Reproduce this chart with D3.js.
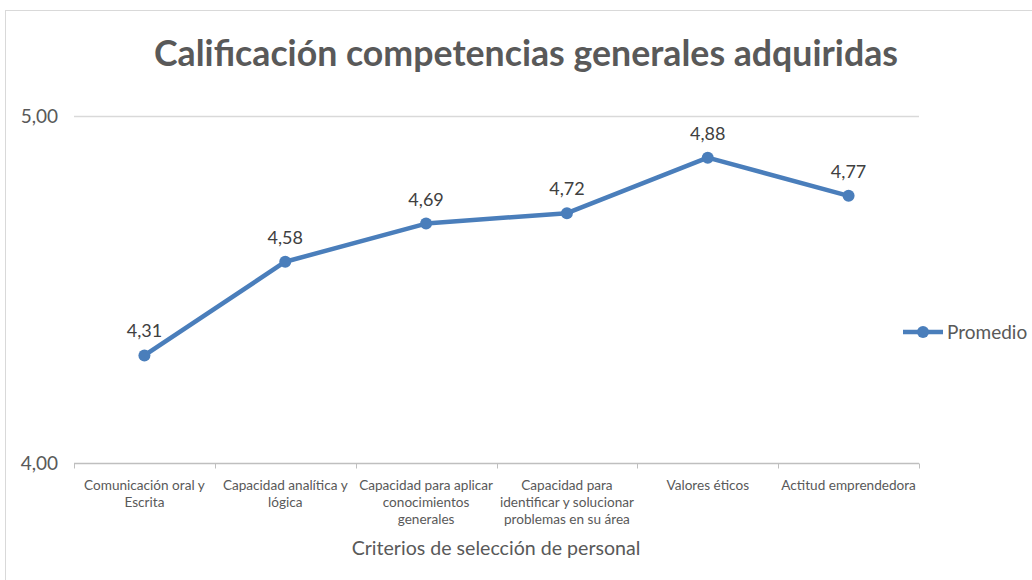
<!DOCTYPE html>
<html>
<head>
<meta charset="utf-8">
<script src="https://cdn.jsdelivr.net/npm/d3@7"></script>
<style>
  body { margin: 0; background: #fff; }
  svg { display: block; font-family: Lato, "Open Sans", "Noto Sans", sans-serif; }
</style>
</head>
<body>
<div id="chart"></div>
<script>
// chart data
var categories = [
    "Comunicación oral y|Escrita",
    "Capacidad analítica y|lógica",
    "Capacidad para aplicar|conocimientos|generales",
    "Capacidad para|identificar y solucionar|problemas en su área",
    "Valores éticos",
    "Actitud emprendedora"
];
var promedio = [4.31, 4.58, 4.69, 4.72, 4.88, 4.77];
var yTicks = [4, 5];
var seriesName = "Promedio";

var W = 1032, H = 580;
var margin = { top: 116, right: 113, bottom: 117, left: 74 };
var plotW = W - margin.left - margin.right,
    plotH = H - margin.top - margin.bottom;
var lineColor = "#4a7ebb";
var textColor = "#595959";

var svg = d3.select("#chart").append("svg")
    .attr("width", W)
    .attr("height", H);

// outer chart frame
svg.append("rect")
    .attr("x", 5.5).attr("y", 10.5)
    .attr("width", W).attr("height", H)
    .attr("fill", "none")
    .attr("stroke", "#d9d9d9")
    .attr("stroke-width", 1);

// title
svg.append("text")
    .attr("x", 526).attr("y", 66)
    .attr("text-anchor", "middle")
    .attr("font-size", 36)
    .attr("font-weight", "bold")
    .attr("fill", textColor)
    .attr("textLength", 744)
    .attr("lengthAdjust", "spacingAndGlyphs")
    .text("Calificación competencias generales adquiridas");

var g = svg.append("g")
    .attr("transform", "translate(" + margin.left + "," + margin.top + ")");

var x = d3.scaleBand().domain(d3.range(categories.length)).range([0, plotW]);
var y = d3.scaleLinear().domain([4, 5]).range([plotH, 0]);

// gridlines
g.selectAll(".grid")
    .data(yTicks.filter(function (d) { return d !== 4; }))
    .enter().append("line")
    .attr("x1", 0).attr("x2", plotW)
    .attr("y1", function (d) { return Math.round(y(d)) + 0.5; })
    .attr("y2", function (d) { return Math.round(y(d)) + 0.5; })
    .attr("stroke", "#d9d9d9")
    .attr("stroke-width", 1.5);

// y tick labels
g.selectAll(".ylab")
    .data(yTicks)
    .enter().append("text")
    .attr("x", -16)
    .attr("y", function (d) { return y(d); })
    .attr("dy", "0.35em")
    .attr("text-anchor", "end")
    .attr("font-size", 19)
    .attr("fill", textColor)
    .text(function (d) { return d3.format(".2f")(d).replace(".", ","); });

// x axis line with ticks between categories
var xAxis = g.append("g").attr("transform", "translate(0," + (Math.round(plotH) + 0.5) + ")");
xAxis.append("line")
    .attr("x1", 0).attr("x2", plotW)
    .attr("stroke", "#bfbfbf").attr("stroke-width", 1.5);
xAxis.selectAll(".tick")
    .data(d3.range(categories.length + 1))
    .enter().append("line")
    .attr("x1", function (i) { return Math.round(i * x.step()) + 0.5; })
    .attr("x2", function (i) { return Math.round(i * x.step()) + 0.5; })
    .attr("y1", 0).attr("y2", 5)
    .attr("stroke", "#bfbfbf");

// category labels
var catLabels = xAxis.selectAll(".xlab")
    .data(categories)
    .enter().append("text")
    .attr("text-anchor", "middle")
    .attr("font-size", 13.6)
    .attr("fill", textColor)
    .attr("transform", function (d, i) { return "translate(" + (x(i) + x.bandwidth() / 2) + ",26)"; });
catLabels.selectAll("tspan")
    .data(function (d) { return d.split("|"); })
    .enter().append("tspan")
    .attr("x", 0)
    .attr("dy", function (d, i) { return i === 0 ? 0 : 17; })
    .text(function (d) { return d; });

// axis title
svg.append("text")
    .attr("x", 496).attr("y", 555)
    .attr("text-anchor", "middle")
    .attr("font-size", 19.6)
    .attr("fill", textColor)
    .text("Criterios de selección de personal");

// line
var line = d3.line()
    .x(function (d, i) { return x(i) + x.bandwidth() / 2; })
    .y(function (d) { return y(d); });

g.append("path")
    .datum(promedio)
    .attr("fill", "none")
    .attr("stroke", lineColor)
    .attr("stroke-width", 4.5)
    .attr("stroke-linejoin", "round")
    .attr("d", line);

g.selectAll(".pt")
    .data(promedio)
    .enter().append("circle")
    .attr("cx", function (d, i) { return x(i) + x.bandwidth() / 2; })
    .attr("cy", function (d) { return y(d); })
    .attr("r", 6)
    .attr("fill", lineColor);

// data labels
g.selectAll(".dl")
    .data(promedio)
    .enter().append("text")
    .attr("x", function (d, i) { return x(i) + x.bandwidth() / 2; })
    .attr("y", function (d) { return y(d) - 18; })
    .attr("text-anchor", "middle")
    .attr("font-size", 18)
    .attr("fill", "#404040")
    .text(function (d) { return d3.format(".2f")(d).replace(".", ","); });

// legend
var leg = svg.append("g").attr("transform", "translate(903,332)");
leg.append("line")
    .attr("x1", 0).attr("x2", 40)
    .attr("stroke", lineColor).attr("stroke-width", 4.5);
leg.append("circle").attr("cx", 20).attr("r", 6).attr("fill", lineColor);
leg.append("text")
    .attr("x", 44).attr("dy", "0.35em")
    .attr("font-size", 19)
    .attr("fill", textColor)
    .text(seriesName);
</script>
</body>
</html>
